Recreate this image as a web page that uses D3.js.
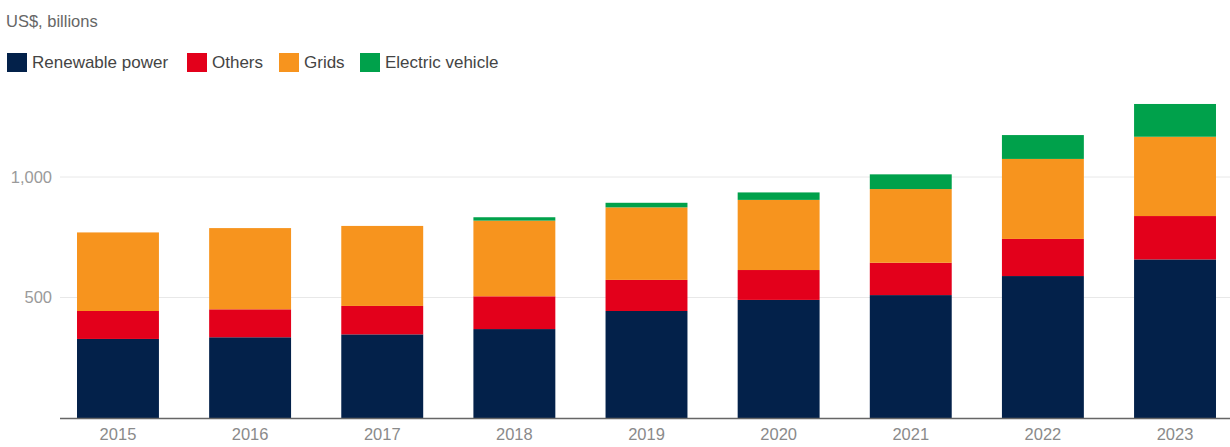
<!DOCTYPE html>
<html>
<head>
<meta charset="utf-8">
<script src="https://cdn.jsdelivr.net/npm/d3@7"></script>
<style>
  html, body { margin: 0; padding: 0; background: #fff; }
  svg { display: block; font-family: "Liberation Sans", Arial, sans-serif; }
</style>
</head>
<body>
<svg id="chart" width="1230" height="447"></svg>
<script>
// Annual investment, US$ billions
const years = ["2015", "2016", "2017", "2018", "2019", "2020", "2021", "2022", "2023"];
const renewablePower = [328, 335, 347, 369, 444, 490, 510, 589, 658];
const others = [116, 116, 118, 136, 129, 124, 134, 154, 180];
const grids = [326, 337, 332, 314, 301, 291, 306, 332, 329];
const electricVehicle = [0, 0, 0, 14, 19, 31, 61, 99, 136];
const yTicks = [500, 1000];

const seriesNames = ["Renewable power", "Others", "Grids", "Electric vehicle"];
const seriesColors = ["#03214a", "#e3001b", "#f7941e", "#00a14b"];
const seriesValues = [renewablePower, others, grids, electricVehicle];

const rows = years.map((y, i) => {
  const r = { year: y };
  seriesNames.forEach((s, k) => { r[s] = seriesValues[k][i]; });
  return r;
});

const svg = d3.select("#chart");

const x = d3.scaleBand()
  .domain(years)
  .range([63.8, 1229.2])
  .paddingInner(0.38)
  .paddingOuter(0.1);

const y = d3.scaleLinear()
  .domain([0, 1000])
  .range([418, 177]);

// Gridlines
svg.append("g")
  .selectAll("line")
  .data(yTicks)
  .join("line")
  .attr("x1", 60).attr("x2", 1230)
  .attr("y1", d => y(d)).attr("y2", d => y(d))
  .attr("stroke", "#e8e8e8")
  .attr("stroke-width", 1);

// Y axis labels
const yAxis = d3.axisLeft(y)
  .tickValues(yTicks)
  .tickSize(0)
  .tickPadding(0)
  .tickFormat(d3.format(","));
svg.append("g")
  .attr("transform", "translate(52,0)")
  .call(yAxis)
  .call(g => g.select(".domain").remove())
  .call(g => g.selectAll("text")
    .attr("fill", "#9a9a9a")
    .attr("font-size", 16.5)
    .attr("font-family", "Liberation Sans, Arial, sans-serif"));

// Stacked bars
const stack = d3.stack().keys(seriesNames);
const layers = stack(rows);

svg.append("g")
  .selectAll("g")
  .data(layers)
  .join("g")
  .attr("fill", (d, i) => seriesColors[i])
  .selectAll("rect")
  .data(d => d.filter(p => p[1] - p[0] > 0))
  .join("rect")
  .attr("x", d => x(d.data.year))
  .attr("width", x.bandwidth())
  .attr("y", d => y(d[1]))
  .attr("height", d => y(d[0]) - y(d[1]));

// X axis
const xAxis = d3.axisBottom(x).tickSize(0).tickPadding(10);
svg.append("g")
  .attr("transform", "translate(0,418)")
  .call(xAxis)
  .call(g => g.select(".domain").remove())
  .call(g => g.selectAll("text")
    .attr("fill", "#8a8a8a")
    .attr("font-size", 16.5)
    .attr("font-family", "Liberation Sans, Arial, sans-serif"));

svg.append("line")
  .attr("x1", 60).attr("x2", 1230)
  .attr("y1", y(0) + 0.5).attr("y2", y(0) + 0.5)
  .attr("stroke", "#666")
  .attr("stroke-width", 1.5);

// Unit label
svg.append("text")
  .attr("x", 6).attr("y", 27)
  .attr("font-size", 16.5)
  .attr("fill", "#666")
  .text("US$, billions");

// Legend
const legendX = [7, 187, 279, 360];
const legend = svg.append("g");
seriesNames.forEach((name, i) => {
  const g = legend.append("g").attr("transform", `translate(${legendX[i]},53)`);
  g.append("rect").attr("width", 20).attr("height", 19).attr("fill", seriesColors[i]);
  g.append("text")
    .attr("x", 25).attr("y", 15)
    .attr("font-size", 17)
    .attr("fill", "#444")
    .text(name);
});
</script>
</body>
</html>
